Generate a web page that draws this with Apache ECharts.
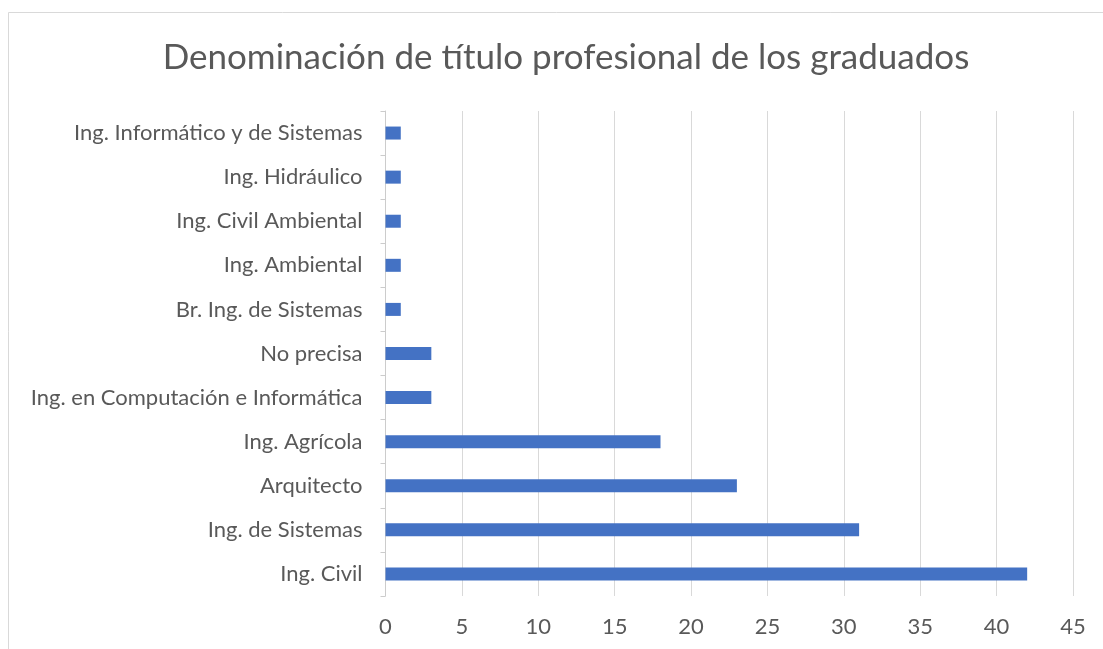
<!DOCTYPE html>
<html>
<head>
<meta charset="utf-8">
<script src="https://cdn.jsdelivr.net/npm/echarts@6/dist/echarts.min.js"></script>
<style>
html,body{margin:0;padding:0;background:#fff;}
#main{width:1103px;height:649px;}
</style>
</head>
<body>
<div id="main"></div>
<script>
const titleText = 'Denominación de título profesional de los graduados';
const categories = ['Ing. Civil', 'Ing. de Sistemas', 'Arquitecto', 'Ing. Agrícola', 'Ing. en Computación e Informática', 'No precisa', 'Br. Ing. de Sistemas', 'Ing. Ambiental', 'Ing. Civil Ambiental', 'Ing. Hidráulico', 'Ing. Informático y de Sistemas'];
const values = [42, 31, 23, 18, 3, 3, 1, 1, 1, 1, 1];
const xMin = 0, xMax = 45, xStep = 5;

const FONT = 'Lato';
const chart = echarts.init(document.getElementById('main'), null, {renderer: 'canvas'});
chart.setOption({
  backgroundColor: '#ffffff',
  animation: false,
  graphic: [{
    type: 'rect',
    shape: {x: 8.5, y: 12.5, width: 1200, height: 800},
    style: {fill: 'none', stroke: '#d9d9d9', lineWidth: 1},
    silent: true
  }],
  title: {
    text: titleText,
    left: 561,
    textAlign: 'center',
    top: 35,
    textStyle: {fontFamily: FONT, fontSize: 35, fontWeight: 'normal', color: '#595959'}
  },
  grid: {left: 385.5, right: 30, top: 111, bottom: 53, containLabel: false},
  xAxis: {
    type: 'value',
    min: xMin, max: xMax, interval: xStep,
    axisLine: {show: false},
    axisTick: {show: false},
    splitLine: {show: true, lineStyle: {color: '#d9d9d9', width: 1}},
    axisLabel: {fontFamily: FONT, fontSize: 22, color: '#595959', margin: 20}
  },
  yAxis: {
    type: 'category',
    data: categories,
    axisLine: {show: true, lineStyle: {color: '#cccccc', width: 1}},
    axisTick: {show: true, length: 5, lineStyle: {color: '#cccccc'}},
    axisLabel: {fontFamily: FONT, fontSize: 22, color: '#595959', margin: 23}
  },
  series: [{
    type: 'bar',
    data: values,
    barWidth: 13,
    itemStyle: {color: '#4472c4'}
  }]
});
</script>
</body>
</html>
